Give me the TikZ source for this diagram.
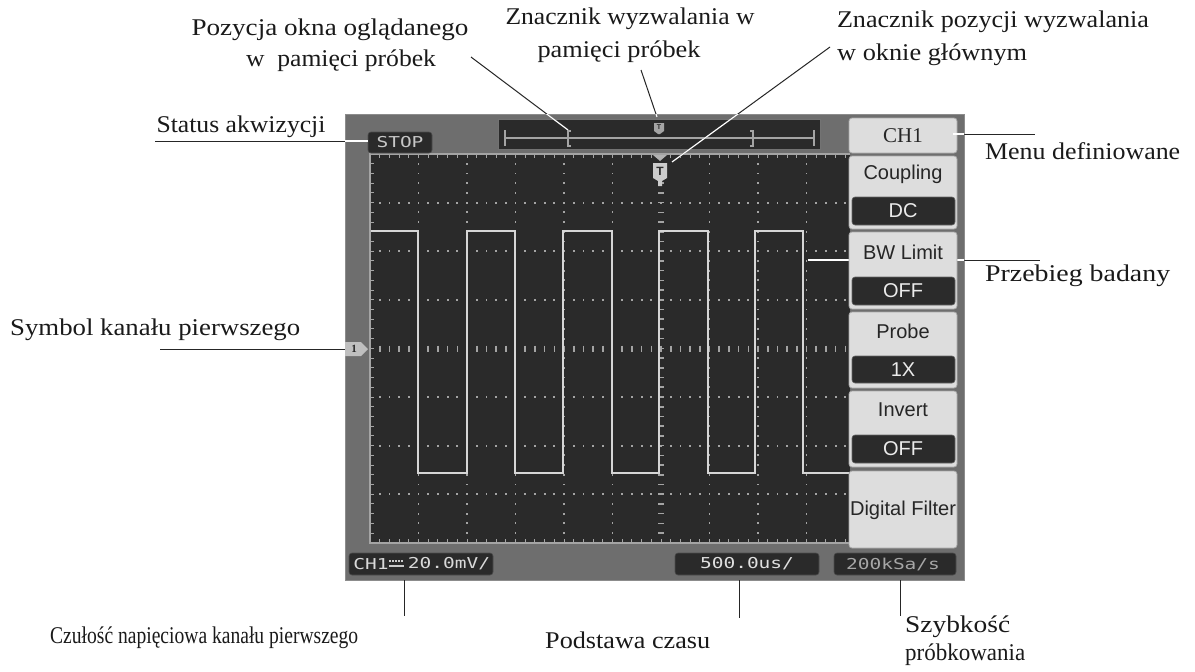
\documentclass[tikz,border=0pt]{standalone}
\usepackage{fontspec}
\usepackage{graphicx}
\setmainfont{Liberation Serif}
\newfontfamily\ssf{Liberation Sans}
\newfontfamily\monof{DejaVu Sans Mono}
\definecolor{panel}{HTML}{6E6E6E}
\definecolor{paneledge}{HTML}{8C8C8C}
\definecolor{scr}{HTML}{2A2A2A}
\definecolor{gridc}{HTML}{A4A4A4}
\definecolor{wavec}{HTML}{D6D6D6}
\definecolor{menul}{HTML}{DDDDDD}
\definecolor{menub}{HTML}{A8A8A8}
\definecolor{valbox}{HTML}{2B2B2B}
\definecolor{lbltext}{HTML}{1A1A1A}
\newsavebox\fwbox
\newcommand{\fitw}[2]{\sbox\fwbox{#2}\pgfmathsetmacro\fwr{#1/(\wd\fwbox)}\scalebox{\fwr}[1]{\usebox\fwbox}}
\newcommand{\mtxt}[1]{\scalebox{1.3}[1]{\monof\fontsize{15}{16}\selectfont #1}}
\begin{document}
\begin{tikzpicture}[x=1pt,y=-1pt,
  lbl/.style={font=\fontsize{24}{26}\selectfont, inner sep=0pt, text=lbltext},
  conn/.style={draw=black!85, line width=1pt},
  connw/.style={draw=white, line width=1.2pt},
  lightbox/.style={fill=menul, draw=menub, line width=0.8pt, rounded corners=3pt},
  darkbox/.style={fill=valbox, draw=black!60, line width=0.6pt, rounded corners=3pt},
  menutext/.style={font=\ssf\fontsize{20}{21}\selectfont, text=black!85, inner sep=0pt},
  valtext/.style={font=\ssf\fontsize{20}{21}\selectfont, text=white!92!black, inner sep=0pt},
  stbox/.style={fill=scr, draw=black!70, line width=0.6pt, rounded corners=3pt}]
\useasboundingbox (0,0) rectangle (1195,672);
\fill[white] (0,0) rectangle (1195,672);

% ---- panel ----
\fill[panel, draw=paneledge, line width=1pt] (345,114) rectangle (964,580);
% screen grid area
\fill[scr] (370,154) rectangle (850,543);
% dots on grid lines
\foreach \k in {1,2,3,4,5,7,8,9} {
  \foreach \j in {1,...,39} {
    \fill[gridc] ({370+\k*48.5-0.9},{154+\j*9.72-0.9}) rectangle +(1.8,1.8);
  }
}
\foreach \m in {1,2,3,5,6,7} {
  \foreach \j in {1,...,49} {
    \fill[gridc] ({370+\j*9.7-0.9},{154+\m*48.6-0.9}) rectangle +(1.8,1.8);
  }
}
% centre axes with dashes
\foreach \j in {1,...,39} {
  \draw[gridc, line width=1.6pt] (658,{154+\j*9.72}) -- (664,{154+\j*9.72});
}
\foreach \j in {1,...,49} {
  \draw[gridc, line width=1.6pt] ({370+\j*9.7},345.5) -- ({370+\j*9.7},351.5);
}
% border ticks
\foreach \j in {1,...,49} {
  \draw[gridc, line width=1pt] ({370+\j*9.7},154) -- ({370+\j*9.7},158);
  \draw[gridc, line width=1pt] ({370+\j*9.7},543) -- ({370+\j*9.7},539);
}
\foreach \j in {1,...,39} {
  \draw[gridc, line width=1pt] (370,{154+\j*9.72}) -- (374,{154+\j*9.72});
}
\draw[gridc, line width=2pt] (850,154) -- (370,154) -- (370,543) -- (850,543);

% ---- waveform ----
\draw[wavec, line width=2pt, line join=miter]
  (371,231) -- (418,231) -- (418,473) -- (467,473) -- (467,231) -- (515,231)
  -- (515,473) -- (563,473) -- (563,231) -- (612,231) -- (612,473) -- (659,473)
  -- (659,231) -- (708,231) -- (708,473) -- (755,473) -- (755,231) -- (803,231)
  -- (803,473) -- (849,473);

% ---- memory bar ----
\fill[scr, draw=black!55, line width=0.8pt] (498,119) rectangle (820,149);
\draw[gridc, line width=1.2pt] (505,138) -- (814,138);
\draw[gridc, line width=1.2pt] (505,130) -- (505,146);
\draw[gridc, line width=1.2pt] (814,130) -- (814,146);
\draw[gridc, line width=1.2pt] (571,131) -- (568,131) -- (568,146) -- (571,146);
\draw[gridc, line width=1.2pt] (750,131) -- (753,131) -- (753,146) -- (750,146);
\fill[gridc] (654,123) -- (664,123) -- (664,131) -- (660,134) -- (658,134) -- (654,131) -- cycle;
\node[font=\ssf\bfseries\fontsize{7}{7}\selectfont, text=scr, inner sep=0pt] (memT) at (659,127.5) {T};

% ---- Przebieg connector (goes under the menu) ----
\coordinate (pbA) at (808,260);
\coordinate (pbB) at (1040,260);
\draw[conn] (pbA) -- (pbB);
\begin{scope}
  \clip (345,114) rectangle (964,580);
  \draw[connw] (pbA) -- (pbB);
\end{scope}

% ---- menu ----
\draw[lightbox] (849,118) rectangle (957,153);
\node[font=\fontsize{21}{22}\selectfont, text=black!85, inner sep=0pt] (mCH) at (903,135.5) {CH1};
\draw[lightbox] (849,156) rectangle (957,229);
\node[menutext] (mCoup) at (903,174) {Coupling};
\draw[darkbox] (852,197) rectangle (955,225);
\node[valtext] (mDC) at (903,211) {DC};
\draw[lightbox] (849,232) rectangle (957,309);
\node[menutext] (mBW) at (903,252) {BW Limit};
\draw[darkbox] (852,277) rectangle (955,305);
\node[valtext] (mOFF1) at (903,291) {OFF};
\draw[lightbox] (849,312) rectangle (957,388);
\node[menutext] (mProbe) at (903,331) {Probe};
\draw[darkbox] (852,356) rectangle (955,383);
\node[valtext] (m1X) at (903,369.5) {1X};
\draw[lightbox] (849,391) rectangle (957,467);
\node[menutext] (mInv) at (903,410) {Invert};
\draw[darkbox] (852,435) rectangle (955,463);
\node[valtext] (mOFF2) at (903,449) {OFF};
\draw[lightbox] (849,471) rectangle (957,548);
\node[menutext] (mDF) at (903,510) {\fitw{106}{Digital Filter}};

% ---- status boxes ----
\draw[stbox] (368,132) rectangle (432,153);
\node[inner sep=0pt, text=white!78!black] (stop) at (400,142.5) {\mtxt{STOP}};
\coordinate (stopW) at (368,141);

\draw[stbox] (349,553) rectangle (493,575);
\node[inner sep=0pt, text=white!85!black] (chA) at (371,564) {\mtxt{CH1}};
\draw[white!80!black, line width=1.3pt, dash pattern=on 1.5pt off 1.5pt] (389,561) -- (404,561);
\draw[white!80!black, line width=1.3pt] (389,566) -- (404,566);
\node[inner sep=0pt, text=white!85!black] (chB) at (449,564) {\mtxt{20.0mV/}};
\draw[stbox] (675,553) rectangle (819,575);
\node[inner sep=0pt, text=white!88!black] (tb) at (747,564) {\mtxt{500.0us/}};
\draw[stbox] (834,553) rectangle (956,575);
\node[inner sep=0pt, text=white!65!black] (sr) at (893,564) {\mtxt{200kSa/s}};

% ---- channel 1 marker ----
\fill[white!75!black] (345,342) -- (361,342) -- (368,349) -- (361,356) -- (345,356) -- cycle;
\node[font=\bfseries\fontsize{11}{11}\selectfont, text=black!85, inner sep=0pt] (ch1m) at (354,349) {1};
\coordinate (ch1W) at (345,349);

% ---- trigger marker ----
\fill[white!70!black] (653,155) -- (667,155) -- (660,161) -- cycle;
\fill[white!80!black] (653,163) -- (667,163) -- (667,178) -- (662,181) -- (662,186) -- (658,186) -- (658,181) -- (653,178) -- cycle;
\node[font=\ssf\bfseries\fontsize{12}{12}\selectfont, text=scr, inner sep=0pt] (trig) at (660,171) {T};

% ---- labels ----
\node[lbl] (lStatus) at (241,127) {\fitw{169}{Status akwizycji}};
\node[lbl] (lPoz1) at (330,30) {\fitw{277}{Pozycja okna oglądanego}};
\node[lbl] (lPoz2) at (341,61) {\fitw{190}{w\ \ pamięci próbek}};
\node[lbl] (lZw1) at (630,19) {\fitw{249}{Znacznik wyzwalania w}};
\node[lbl] (lZw2) at (619,52) {\fitw{163}{pamięci próbek}};
\node[lbl] (lZp1) at (993,22) {\fitw{312}{Znacznik pozycji wyzwalania}};
\node[lbl, anchor=west] (lZp2) at (837,55) {\fitw{190}{w oknie głównym}};
\node[lbl, anchor=west] (lMenu) at (985,151) {\fitw{195}{Menu definiowane}};
\node[lbl, anchor=west] (lPrz) at (985,276) {\fitw{185}{Przebieg badany}};
\node[lbl, anchor=west] (lSym) at (10,330) {\fitw{290}{Symbol kanału pierwszego}};
\node[lbl, anchor=west] (lCz) at (50,638) {\fitw{308}{Czułość napięciowa kanału pierwszego}};
\node[lbl, anchor=west] (lPod) at (545,640) {\fitw{165}{Podstawa czasu}};
\node[lbl, anchor=west] (lSz1) at (905,627) {\fitw{105}{Szybkość}};
\node[lbl, anchor=west] (lSz2) at (905,655) {\fitw{120}{próbkowania}};

% ---- connectors ----
\coordinate (stA) at (155,141);
\coordinate (pzA) at (471,57);
\coordinate (brL) at (568,130);
\coordinate (zwA) at (641,70);
\coordinate (zwB) at (657,117);
\coordinate (zpA) at (830,47);
\coordinate (zpB) at (672,162);
\coordinate (mdA) at (953,134);
\coordinate (mdB) at (1035,134);
\coordinate (syA) at (160,349);
\coordinate (czA) at (404,580);
\coordinate (czB) at (404,616);
\coordinate (tbA) at (739,580);
\coordinate (tbB) at (739,618);
\coordinate (srA) at (900,580);
\coordinate (srB) at (900,616);
\draw[conn] (stA) -- (stopW);
\draw[conn] (pzA) -- (brL);
\draw[conn] (zwA) -- (zwB);
\draw[conn] (zpA) -- (zpB);
\draw[conn] (mdA) -- (mdB);
\draw[conn] (syA) -- (ch1W);
\draw[conn] (czA) -- (czB);
\draw[conn] (tbA) -- (tbB);
\draw[conn] (srA) -- (srB);
\begin{scope}
  \clip (345,114) rectangle (964,580);
  \draw[connw] (stA) -- (stopW);
  \draw[connw] (pzA) -- (brL);
  \draw[connw] (zwA) -- (zwB);
  \draw[connw] (zpA) -- (zpB);
  \draw[connw] (mdA) -- (mdB);
\end{scope}
\end{tikzpicture}
\end{document}
